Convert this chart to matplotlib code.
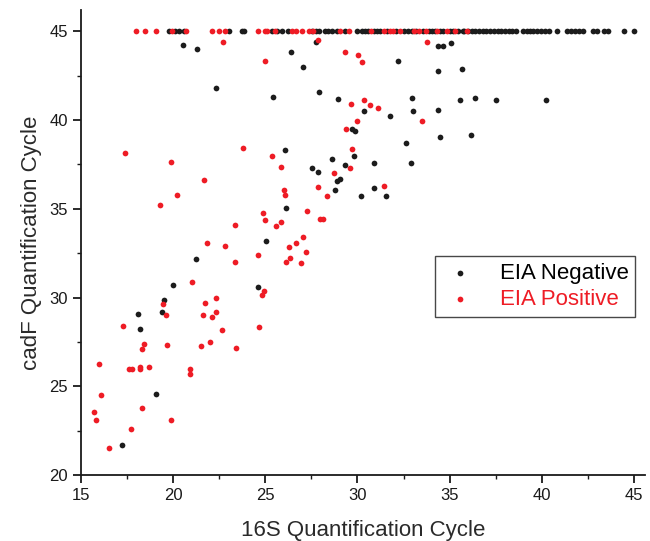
#scatter of cadF vs 16S quantification cycles
import matplotlib
matplotlib.use("Agg")
import matplotlib.pyplot as plt
import numpy as np

plt.rcParams['font.family'] = ['Liberation Sans', 'DejaVu Sans']

#EIA negative samples (black)
neg_row_x = [19.79, 20.10, 20.30, 20.60, 23.03, 23.75, 23.83, 25.35, 25.62, 25.92, 26.25, 27.52, 27.73,
             27.93, 28.24, 28.42, 28.60, 28.87, 29.32, 29.99, 30.23, 30.41, 30.59, 30.9, 31.04, 31.22,
             31.6, 32.1, 32.5, 32.76, 32.94, 33.2, 33.54, 33.9, 34.03, 34.2, 34.5, 34.66, 35.0, 35.2,
             35.47, 35.71, 35.8, 36.0, 36.2, 36.4, 36.6, 36.8, 37.0, 37.2, 37.4, 37.6, 37.8, 38.0,
             38.2, 38.4, 38.6, 39.0, 39.18, 39.36, 39.54, 39.76, 39.96, 40.18, 40.41, 40.81, 41.35,
             41.57, 41.8, 42.04, 42.25, 42.8, 43.01, 43.38, 43.61, 44.46, 45.0]
neg_x = [20.53, 21.31, 22.31, 26.39, 27.73, 27.05, 32.22, 34.35, 34.66, 35.08, 34.37, 35.66, 25.42,
         27.93, 28.94, 32.98, 30.36, 33.03, 34.35, 35.56, 36.38, 37.53, 40.25, 31.75, 29.72, 29.85,
         34.48, 36.14, 32.63, 26.05, 29.83, 28.62, 29.31, 27.53, 27.84, 28.89, 29.05, 30.90, 32.92,
         30.92, 31.55, 30.19, 28.77, 26.14, 25.05, 21.24, 19.99, 24.62, 19.52, 18.11, 19.41, 18.18,
         19.05, 17.21]
neg_y = [44.25, 44.03, 41.79, 43.86, 44.40, 43.01, 43.31, 44.17, 44.17, 44.36, 42.79, 42.88, 41.28,
         41.60, 41.19, 41.27, 40.50, 40.50, 40.59, 41.15, 41.23, 41.15, 41.15, 40.25, 39.47, 39.41,
         39.02, 39.13, 38.68, 38.34, 37.98, 37.83, 37.49, 37.30, 37.10, 36.57, 36.68, 37.57, 37.57,
         36.18, 35.73, 35.71, 36.05, 35.07, 33.18, 32.18, 30.68, 30.59, 29.87, 29.08, 29.19, 28.22,
         24.54, 21.67]

#EIA positive samples (red)
pos_row_x = [17.97, 18.46, 19.09, 19.92, 20.70, 22.11, 22.50, 22.83, 24.59, 24.98, 25.09, 25.53, 26.46,
             26.65, 27.01, 27.37, 27.60, 29.05, 29.56, 30.74, 31.46, 31.77, 31.91, 32.31, 33.07, 33.34,
             33.74, 34.33, 34.86, 35.31, 35.96]
pos_x = [22.72, 24.98, 27.84, 29.32, 30.05, 30.23, 33.77, 30.36, 30.70, 31.13, 33.50, 29.63, 29.98,
         29.36, 23.81, 25.36, 25.87, 29.70, 29.61, 28.73, 31.44, 27.88, 28.37, 26.03, 26.05, 27.25,
         24.89, 25.00, 25.87, 25.56, 27.98, 28.11, 27.06, 26.68, 26.30, 27.22, 26.34, 26.14, 26.94,
         24.60, 17.39, 19.88, 21.66, 20.21, 19.30, 23.34, 21.84, 22.83, 23.34, 21.04, 24.95, 24.82,
         22.31, 19.47, 21.71, 19.61, 21.64, 22.31, 22.11, 17.30, 22.63, 24.66, 18.42, 18.29, 19.67,
         21.51, 21.98, 23.39, 15.99, 17.60, 17.78, 18.20, 18.22, 18.67, 20.93, 20.90, 16.10, 15.71,
         15.80, 18.29, 19.87, 17.70, 16.54]
pos_y = [44.40, 43.31, 44.49, 43.83, 43.69, 43.25, 44.40, 41.15, 40.82, 40.70, 39.93, 40.91, 39.97,
         39.47, 38.45, 38.00, 37.33, 38.37, 37.27, 36.99, 36.31, 36.20, 35.71, 36.05, 35.78, 34.90,
         34.75, 34.34, 34.23, 34.02, 34.40, 34.45, 33.40, 33.10, 32.85, 32.54, 32.24, 31.98, 31.92,
         32.39, 38.17, 37.64, 36.61, 35.78, 35.19, 34.08, 33.10, 32.88, 31.98, 30.88, 30.38, 30.17,
         29.98, 29.61, 29.70, 28.99, 28.99, 29.16, 28.88, 28.37, 28.16, 28.33, 27.39, 27.09, 27.34,
         27.25, 27.47, 27.15, 26.27, 25.97, 25.95, 26.08, 25.97, 26.08, 25.97, 25.67, 24.49, 23.55,
         23.08, 23.77, 23.10, 22.57, 21.54]

ROW_Y = 45  # undetected samples capped at 45 cycles

x_neg = np.concatenate([neg_row_x, neg_x])
y_neg = np.concatenate([np.full(len(neg_row_x), ROW_Y), neg_y])
x_pos = np.concatenate([pos_row_x, pos_x])
y_pos = np.concatenate([np.full(len(pos_row_x), ROW_Y), pos_y])

fig = plt.figure(figsize=(6.5, 5.41), dpi=100)
ax = fig.add_axes([0.1246, 0.122, 0.8677, 0.8595])

ax.scatter(x_neg, y_neg, s=17, color='#1c1c1c', linewidths=0, label='EIA Negative', zorder=3)
ax.scatter(x_pos, y_pos, s=17, color='#ee1c25', linewidths=0, label='EIA Positive', zorder=3)

ax.set_xlim(15, 45.6)
ax.set_ylim(20, 46.2)
ax.set_xticks(np.arange(15, 46, 5))
ax.set_yticks(np.arange(20, 46, 5))
ax.set_xticks(np.arange(17.5, 45, 5), minor=True)
ax.set_yticks(np.arange(22.5, 45, 5), minor=True)

for side in ['top', 'right']:
    ax.spines[side].set_visible(False)
for side in ['left', 'bottom']:
    ax.spines[side].set_linewidth(1.3)
    ax.spines[side].set_color('#1a1a1a')

ax.tick_params(which='major', direction='out', length=6, width=1.3, labelsize=12, colors='#1a1a1a')
ax.tick_params(which='minor', direction='out', length=3, width=1.0, colors='#1a1a1a')

ax.set_xlabel('16S Quantification Cycle', fontsize=16, color='#2a2a2a', labelpad=12)
ax.set_ylabel('cadF Quantification Cycle', fontsize=16, color='#2a2a2a', labelpad=5)

leg = ax.legend(loc='upper left', bbox_to_anchor=(0.628, 0.471), borderaxespad=0, frameon=True,
                fancybox=False, fontsize=16, markerscale=1.0, handletextpad=1.0, borderpad=0.3,
                labelspacing=0.25, handlelength=1.6)
leg.get_frame().set_edgecolor('#1a1a1a')
leg.get_frame().set_linewidth(1.0)
leg.get_texts()[1].set_color('#ee1c25')

fig.savefig('out.png', dpi=100)
